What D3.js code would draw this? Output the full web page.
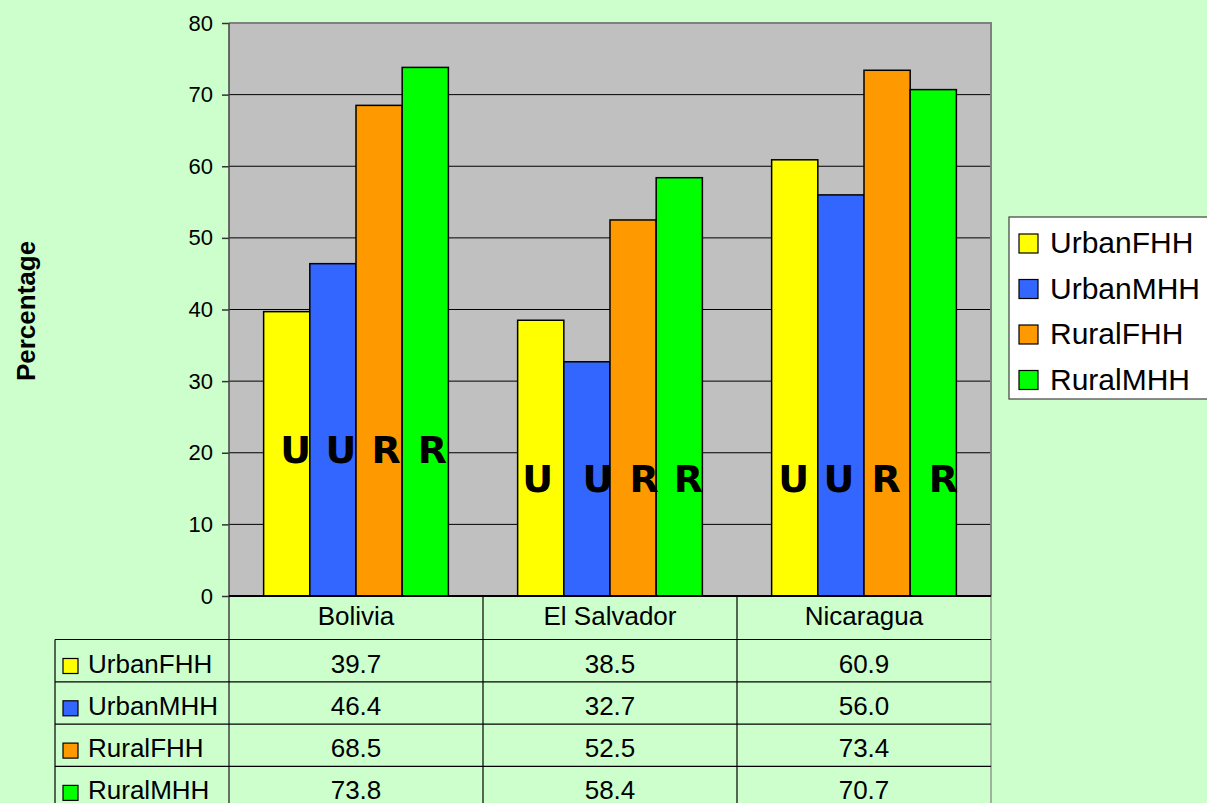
<!DOCTYPE html>
<html>
<head>
<meta charset="utf-8">
<script src="https://cdn.jsdelivr.net/npm/d3@7"></script>
<style>
  body { margin: 0; background: #CCFFCC; }
  svg { display: block; }
  text { font-family: "Liberation Sans", Arial, sans-serif; }
</style>
</head>
<body>
<svg id="chart"></svg>
<script>
var width = 1207;
var height = 803;

var categories = ["Bolivia", "El Salvador", "Nicaragua"];
var seriesNames = ["UrbanFHH", "UrbanMHH", "RuralFHH", "RuralMHH"];
var colors = ["#FFFF00", "#3366FF", "#FF9900", "#00FF00"];

var urbanFHH = [39.7, 38.5, 60.9];
var urbanMHH = [46.4, 32.7, 56.0];
var ruralFHH = [68.5, 52.5, 73.4];
var ruralMHH = [73.8, 58.4, 70.7];
var values = [urbanFHH, urbanMHH, ruralFHH, ruralMHH];

var yTicks = [0, 10, 20, 30, 40, 50, 60, 70, 80];

// hand placed U / R letters (level in chart units, nudge in px)
var letterLevel = [18.6, 14.5, 14.5];
var letterNudge = [[9, 8, 7, 7], [-3, 11, 11, 9], [-1, -2, -1, 10]];

var margin = {top: 23, left: 229, right: 216, bottom: 207};

var svg = d3.select("#chart").attr("width", width).attr("height", height);

var xScale = d3.scaleBand()
  .domain(categories)
  .range([margin.left, width - margin.right])
  .padding(0);

var sScale = d3.scaleBand()
  .domain(seriesNames)
  .range([0, xScale.bandwidth()])
  .paddingInner(0)
  .paddingOuter(0.75);

var yScale = d3.scaleLinear()
  .domain([0, 80])
  .range([height - margin.bottom, margin.top]);

var x0 = xScale.range()[0], x1 = xScale.range()[1];
var y0 = yScale(0), yTop = yScale(80);

// plot area
svg.append("rect")
  .attr("x", x0).attr("y", yTop)
  .attr("width", x1 - x0).attr("height", y0 - yTop)
  .attr("fill", "#C0C0C0");

// gridlines
svg.append("g").selectAll("line")
  .data(yTicks.filter(function(d) { return d > 0 && d < 80; }))
  .enter().append("line")
  .attr("x1", x0).attr("x2", x1)
  .attr("y1", function(d) { return yScale(d); })
  .attr("y2", function(d) { return yScale(d); })
  .attr("stroke", "#000").attr("stroke-width", 1);

// border top & right
svg.append("path")
  .attr("d", "M" + x0 + "," + yTop + "H" + x1 + "V" + y0)
  .attr("fill", "none").attr("stroke", "#808080").attr("stroke-width", 2);

// bars
var groups = svg.append("g").selectAll("g")
  .data(categories)
  .enter().append("g")
  .attr("transform", function(d) { return "translate(" + xScale(d) + ",0)"; });

groups.selectAll("rect")
  .data(function(c, ci) {
    return seriesNames.map(function(s, si) { return {s: s, si: si, v: values[si][ci]}; });
  })
  .enter().append("rect")
  .attr("x", function(d) { return sScale(d.s); })
  .attr("y", function(d) { return yScale(d.v); })
  .attr("width", sScale.bandwidth())
  .attr("height", function(d) { return y0 - yScale(d.v); })
  .attr("fill", function(d) { return colors[d.si]; })
  .attr("stroke", "#000").attr("stroke-width", 1.5);

// letters
groups.selectAll("text.letter")
  .data(function(c, ci) {
    return seriesNames.map(function(s, si) { return {s: s, si: si, ci: ci}; });
  })
  .enter().append("text")
  .attr("class", "letter")
  .attr("x", function(d) { return sScale(d.s) + sScale.bandwidth() / 2 + letterNudge[d.ci][d.si]; })
  .attr("y", function(d) { return yScale(letterLevel[d.ci]); })
  .attr("text-anchor", "middle")
  .style("font-family", "'DejaVu Sans', Verdana, sans-serif")
  .style("font-weight", "bold")
  .style("font-size", "38px")
  .text(function(d) { return d.s.charAt(0); });

// y axis
var yAxis = svg.append("g")
  .attr("transform", "translate(" + x0 + ",0)")
  .call(d3.axisLeft(yScale).tickValues(yTicks).tickSize(7).tickPadding(9));
yAxis.select(".domain").remove();
yAxis.selectAll(".tick line").attr("stroke", "#333").attr("stroke-width", 1.5);
yAxis.selectAll(".tick text")
  .style("font-family", "'Liberation Sans', Arial, sans-serif")
  .style("font-size", "22px").attr("fill", "#000");

svg.append("text")
  .attr("transform", "translate(35,311) rotate(-90)")
  .attr("text-anchor", "middle")
  .style("font-size", "26px").style("font-weight", "bold")
  .text("Percentage");

// data table
var rowH = 42.3;
var tableTop = y0;
var headerBottom = tableTop + 43.5;
var tableLeft = 55;
var tableBottom = height + 10;

var tg = svg.append("g");
// left axis line continues through table
tg.append("line").attr("x1", x0).attr("x2", x0).attr("y1", yTop).attr("y2", tableBottom)
  .attr("stroke", "#404040").attr("stroke-width", 1.5);
// vertical lines
tg.selectAll("line.col")
  .data(categories)
  .enter().append("line")
  .attr("x1", function(d) { return xScale(d) + xScale.bandwidth(); })
  .attr("x2", function(d) { return xScale(d) + xScale.bandwidth(); })
  .attr("y1", tableTop).attr("y2", tableBottom)
  .attr("stroke", function(d, i) { return i == categories.length - 1 ? "#808080" : "#000"; })
  .attr("stroke-width", 1.2);
tg.append("line").attr("x1", tableLeft).attr("x2", tableLeft)
  .attr("y1", headerBottom).attr("y2", tableBottom)
  .attr("stroke", "#000").attr("stroke-width", 1.2);
// horizontal lines
tg.append("line").attr("x1", x0).attr("x2", x1).attr("y1", y0).attr("y2", y0)
  .attr("stroke", "#000").attr("stroke-width", 2);
tg.selectAll("line.row")
  .data(seriesNames)
  .enter().append("line")
  .attr("x1", tableLeft).attr("x2", x1)
  .attr("y1", function(d, i) { return headerBottom + i * rowH; })
  .attr("y2", function(d, i) { return headerBottom + i * rowH; })
  .attr("stroke", "#000").attr("stroke-width", 1.2);

// header
tg.selectAll("text.cat")
  .data(categories)
  .enter().append("text")
  .attr("x", function(d) { return xScale(d) + xScale.bandwidth() / 2; })
  .attr("y", tableTop + 29)
  .attr("text-anchor", "middle")
  .style("font-size", "26px")
  .text(function(d) { return d; });

// rows
var rows = tg.selectAll("g.row")
  .data(seriesNames)
  .enter().append("g")
  .attr("transform", function(d, i) { return "translate(0," + (headerBottom + i * rowH) + ")"; });

rows.append("rect")
  .attr("x", 63).attr("y", 19).attr("width", 15).attr("height", 15)
  .attr("fill", function(d, i) { return colors[i]; })
  .attr("stroke", "#000").attr("stroke-width", 1.2);
rows.append("text")
  .attr("x", 88).attr("y", 33)
  .style("font-size", "26px")
  .text(function(d) { return d; });
rows.selectAll("text.val")
  .data(function(d, i) { return values[i]; })
  .enter().append("text")
  .attr("x", function(v, ci) { return xScale(categories[ci]) + xScale.bandwidth() / 2; })
  .attr("y", 33)
  .attr("text-anchor", "middle")
  .style("font-size", "26px")
  .text(function(v) { return v.toFixed(1); });

// legend
var legend = svg.append("g");
legend.append("rect")
  .attr("x", 1009).attr("y", 217).attr("width", 220).attr("height", 182)
  .attr("fill", "#FFFFFF").attr("stroke", "#404040").attr("stroke-width", 1.2);
var items = legend.selectAll("g.item")
  .data(seriesNames)
  .enter().append("g")
  .attr("transform", function(d, i) { return "translate(1019," + (234 + i * 45.5) + ")"; });
items.append("rect")
  .attr("width", 19).attr("height", 19)
  .attr("fill", function(d, i) { return colors[i]; })
  .attr("stroke", "#000").attr("stroke-width", 1.2);
items.append("text")
  .attr("x", 31).attr("y", 19)
  .style("font-size", "30px")
  .text(function(d) { return d; });
</script>
</body>
</html>
